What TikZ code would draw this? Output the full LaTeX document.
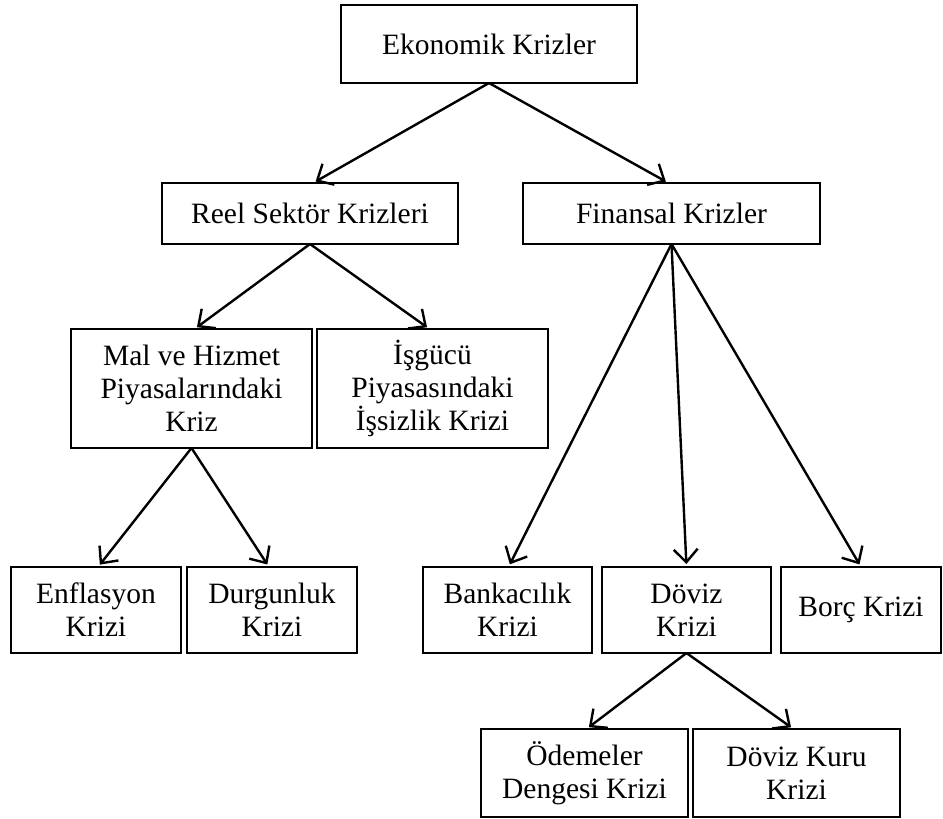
\documentclass[tikz,border=0pt]{standalone}
\usepackage{fontspec}
\setmainfont{Liberation Serif}
\usetikzlibrary{arrows.meta}
\begin{document}
\begin{tikzpicture}[x=1pt,y=1pt,
  box/.style={draw=black, line width=2.2pt, rectangle, inner sep=0pt, outer sep=0pt,
    align=center, font=\fontsize{29.5}{33}\selectfont},
  conn/.style={draw=black, line width=2.4pt, -{Straight Barb[length=13pt,width=24pt,line width=2.4pt]}, shorten >=3pt}]
\useasboundingbox (0,0) rectangle (943,-819);
\node[box, minimum width=296, minimum height=78] (eko) at (489,-44) {Ekonomik Krizler};
\node[box, minimum width=296, minimum height=61] (reel) at (310,-213.5) {Reel Sektör Krizleri};
\node[box, minimum width=297, minimum height=61] (fin) at (671.5,-213.5) {Finansal Krizler};
\node[box, minimum width=241, minimum height=119] (mal) at (191.5,-388.5) {Mal ve Hizmet\\Piyasalarındaki\\Kriz};
\node[box, minimum width=231, minimum height=119] (isg) at (432.5,-388.5) {İşgücü\\Piyasasındaki\\İşsizlik Krizi};
\node[box, minimum width=170, minimum height=86] (enf) at (96,-610) {Enflasyon\\Krizi};
\node[box, minimum width=170, minimum height=86] (dur) at (272,-610) {Durgunluk\\Krizi};
\node[box, minimum width=169, minimum height=86] (ban) at (507.5,-610) {Bankacılık\\Krizi};
\node[box, minimum width=169, minimum height=86] (dov) at (686.5,-610) {Döviz\\Krizi};
\node[box, minimum width=160, minimum height=86] (bor) at (861,-610) {Borç Krizi};
\node[box, minimum width=207, minimum height=88] (ode) at (584.5,-773) {Ödemeler\\Dengesi Krizi};
\node[box, minimum width=207, minimum height=88] (kur) at (796.5,-773) {Döviz Kuru\\Krizi};
\draw[conn] (eko.south) -- ([xshift=3pt]reel.north);
\draw[conn] (eko.south) -- ([xshift=-3pt]fin.north);
\draw[conn] (reel.south) -- ([xshift=3pt]mal.north);
\draw[conn] (reel.south) -- ([xshift=-3pt]isg.north);
\draw[conn] (mal.south) -- ([xshift=2pt]enf.north);
\draw[conn] (mal.south) -- ([xshift=-3pt]dur.north);
\draw[conn] (fin.south) -- ([xshift=1pt]ban.north);
\draw[conn] (fin.south) -- (dov.north);
\draw[conn] (fin.south) -- (bor.north);
\draw[conn] (dov.south) -- ([xshift=2pt]ode.north);
\draw[conn] (dov.south) -- ([xshift=-3pt]kur.north);
\end{tikzpicture}
\end{document}
